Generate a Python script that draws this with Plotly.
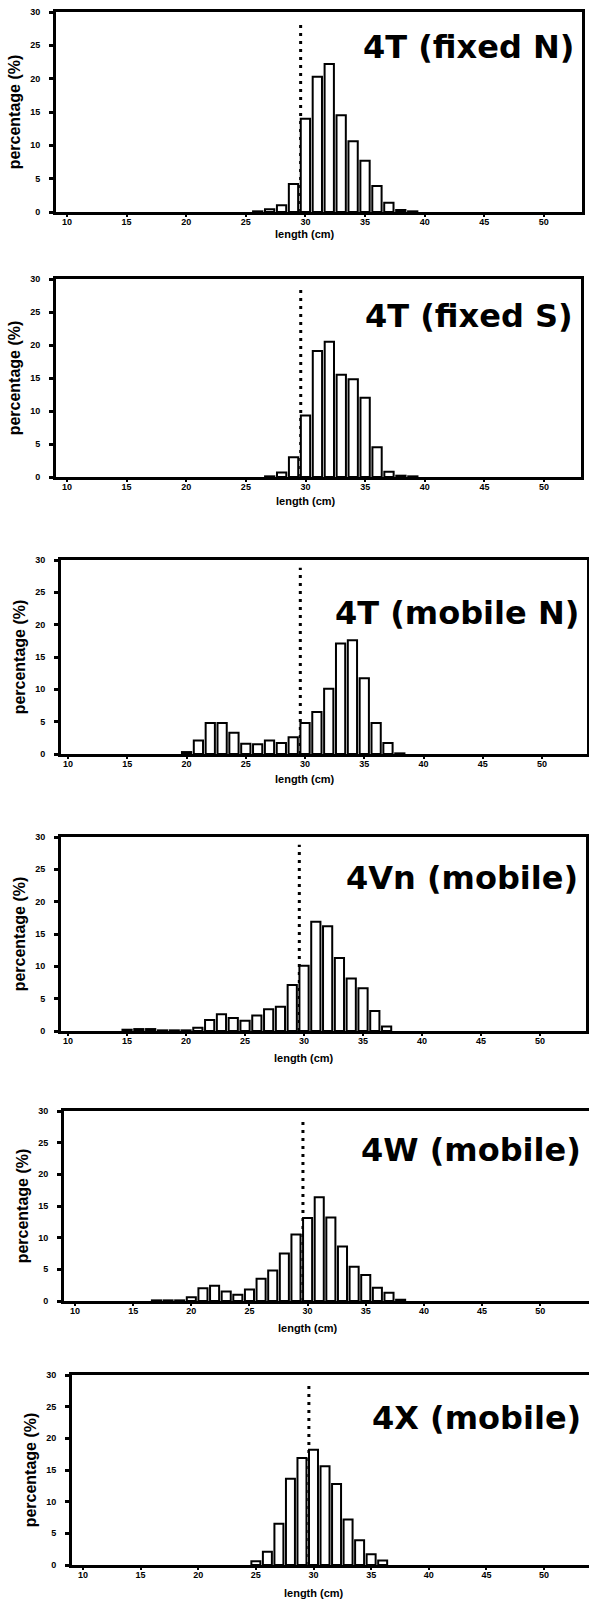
import plotly.graph_objects as go

# ---------------- data (length class in cm, percentage) ----------------
len_4T_fixed_N = [26, 27, 28, 29, 30, 31, 32, 33, 34, 35, 36, 37, 38, 39]
pct_4T_fixed_N = [0.1, 0.4, 1.0, 4.2, 14.0, 20.3, 22.2, 14.5, 10.6, 7.7, 3.9, 1.4, 0.3, 0.1]

len_4T_fixed_S = [27, 28, 29, 30, 31, 32, 33, 34, 35, 36, 37, 38, 39]
pct_4T_fixed_S = [0.1, 0.7, 3.0, 9.3, 19.1, 20.5, 15.5, 14.8, 12.0, 4.5, 0.8, 0.2, 0.1]

len_4T_mobile_N = [20, 21, 22, 23, 24, 25, 26, 27, 28, 29, 30, 31, 32, 33, 34, 35, 36, 37, 38]
pct_4T_mobile_N = [0.3, 2.1, 4.8, 4.8, 3.3, 1.6, 1.5, 2.1, 1.7, 2.6, 4.8, 6.5, 10.1, 17.1, 17.6, 11.7, 4.8, 1.7, 0.1]

len_4Vn_mobile = [15, 16, 17, 18, 19, 20, 21, 22, 23, 24, 25, 26, 27, 28, 29, 30, 31, 32, 33, 34, 35, 36, 37]
pct_4Vn_mobile = [0.2, 0.3, 0.3, 0.1, 0.1, 0.1, 0.5, 1.7, 2.6, 2.0, 1.6, 2.4, 3.35, 3.75, 7.1, 10.1, 16.9, 16.2, 11.3, 8.1, 6.6, 3.1, 0.7]

len_4W_mobile = [17, 18, 19, 20, 21, 22, 23, 24, 25, 26, 27, 28, 29, 30, 31, 32, 33, 34, 35, 36, 37, 38]
pct_4W_mobile = [0.1, 0.1, 0.1, 0.6, 2.0, 2.4, 1.5, 1.0, 1.8, 3.5, 4.8, 7.5, 10.5, 13.1, 16.4, 13.2, 8.6, 5.4, 4.1, 2.1, 1.3, 0.2]

len_4X_mobile = [25, 26, 27, 28, 29, 30, 31, 32, 33, 34, 35, 36]
pct_4X_mobile = [0.6, 2.1, 6.5, 13.6, 16.9, 18.2, 15.6, 12.8, 7.2, 3.9, 1.7, 0.7]

panel_titles = ["4T (fixed N)", "4T (fixed S)", "4T (mobile N)", "4Vn (mobile)", "4W (mobile)", "4X (mobile)"]
x_tick_vals = [10, 15, 20, 25, 30, 35, 40, 45, 50]
y_tick_vals = [0, 5, 10, 15, 20, 25, 30]
reference_length = 29.6   # dotted reference line (cm)
x_title = "length (cm)"
y_title = "percentage (%)"

series = [
    (len_4T_fixed_N, pct_4T_fixed_N),
    (len_4T_fixed_S, pct_4T_fixed_S),
    (len_4T_mobile_N, pct_4T_mobile_N),
    (len_4Vn_mobile, pct_4Vn_mobile),
    (len_4W_mobile, pct_4W_mobile),
    (len_4X_mobile, pct_4X_mobile),
]

# ---------------- layout geometry (pixels) ----------------
W, H = 589, 1606
# left, right, top, bottom(px), xmin, xmax, title offset from top, x-title offset below axis, right border
geom = [
    (56, 582, 12, 212, 9.08, 53.2, 35, 22, True),
    (56, 581, 279, 477, 9.08, 53.1, 37, 24, True),
    (61, 587, 560, 754, 9.40, 53.8, 53, 25, True),
    (61, 586, 837, 1031, 9.40, 53.9, 41, 27, True),
    (64, 589, 1111, 1301, 9.05, 54.2, 39, 27, False),
    (72, 589, 1375, 1565, 9.05, 53.9, 43, 28, False),
]

FONT = "Liberation Sans, Arial, sans-serif"
TITLE_FONT = "DejaVu Sans, Liberation Sans, sans-serif"
fig = go.Figure()

for i, ((xs, ys), g, title) in enumerate(zip(series, geom, panel_titles)):
    left, right, top, bot, xmin, xmax, toff, xtoff, rborder = g
    n = "" if i == 0 else str(i + 1)
    xa, ya = "x" + n, "y" + n
    fig.add_trace(go.Bar(
        x=xs, y=ys, width=0.78,
        marker=dict(color="white", line=dict(color="black", width=2)),
        xaxis=xa, yaxis=ya, showlegend=False, hoverinfo="x+y",
    ))
    xdom = [left / W, min(right / W, 1.0)]
    ydom = [1 - bot / H, 1 - top / H]
    fig.layout["xaxis" + n] = dict(
        domain=xdom, range=[xmin, xmax], anchor=ya, automargin=False,
        tickmode="array", tickvals=x_tick_vals,
        ticks="outside", ticklen=2, tickwidth=2, tickcolor="black",
        ticklabelstandoff=-3,
        showline=True, linewidth=3, linecolor="black", mirror=True,
        showgrid=False, zeroline=False,
        tickfont=dict(family=FONT, size=9, color="black", weight="bold"),
    )
    fig.layout["yaxis" + n] = dict(
        domain=ydom, range=[0, 30], anchor=xa, automargin=False,
        tickmode="array", tickvals=y_tick_vals,
        ticks="outside", ticklen=4, tickwidth=3, tickcolor="black",
        ticklabelstandoff=7,
        showline=True, linewidth=3, linecolor="black", mirror=rborder,
        showgrid=False, zeroline=False,
        tickfont=dict(family=FONT, size=9, color="black", weight="bold"),
        title=dict(text=y_title, standoff=6,
                   font=dict(family=FONT, size=16, color="black", weight="bold")),
    )
    ph = bot - top
    # panel label
    fig.add_annotation(
        text="<b>%s</b>" % title, xref=xa + " domain", yref=ya + " domain",
        x=0.988, y=1 - toff / ph, xanchor="right", yanchor="middle",
        showarrow=False, font=dict(family=TITLE_FONT, size=32, color="black"),
    )
    # x-axis title, centred near 30 cm as in the original
    fig.add_annotation(
        text="<b>%s</b>" % x_title, xref=xa, yref=ya + " domain",
        x=30, y=0, yshift=-xtoff, xanchor="center", yanchor="middle",
        showarrow=False, font=dict(family=FONT, size=11, color="black"),
    )
    fig.add_shape(
        type="line", xref=xa, yref=ya,
        x0=reference_length, x1=reference_length, y0=0, y1=28.8,
        line=dict(color="black", width=3, dash="3px,5px"), layer="below",
    )

fig.update_layout(
    width=W, height=H, autosize=False,
    margin=dict(l=0, r=0, t=0, b=0, autoexpand=False),
    paper_bgcolor="white", plot_bgcolor="white",
)

fig.write_html("out.html", config={"displayModeBar": False},
               post_script="document.body.style.margin='0px';")
